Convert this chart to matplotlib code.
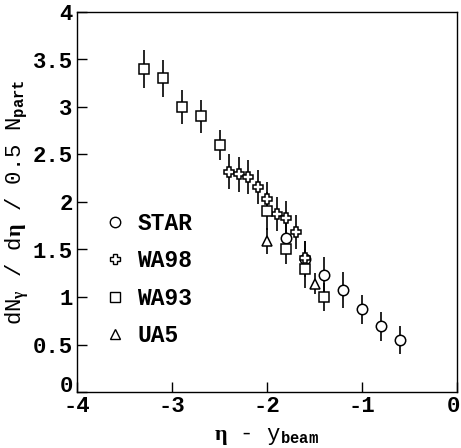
import numpy as np
import matplotlib
matplotlib.use('Agg')
import matplotlib.pyplot as plt
import matplotlib.transforms as mtransforms
from matplotlib.lines import Line2D

plt.rcdefaults()
plt.rc('font', family='Liberation Mono', weight='bold', size=16)
plt.rc('mathtext', fontset='custom', rm='Liberation Mono:bold',
       it='Liberation Serif', bf='Liberation Mono:bold')

# DATA
star_x = [-1.8, -1.6, -1.4, -1.2, -1.0, -0.8, -0.6]
star_y = [1.62, 1.40, 1.23, 1.07, 0.87, 0.69, 0.55]
star_e = [0.17, 0.19, 0.19, 0.19, 0.15, 0.15, 0.15]

wa98_x = [-2.4, -2.3, -2.2, -2.1, -2.0, -1.9, -1.8, -1.7, -1.6]
wa98_y = [2.32, 2.29, 2.26, 2.16, 2.03, 1.87, 1.83, 1.68, 1.41]
wa98_e = [0.18, 0.18, 0.18, 0.18, 0.18, 0.18, 0.18, 0.18, 0.18]

wa93_x = [-3.3, -3.1, -2.9, -2.7, -2.5, -2.0, -1.8, -1.6, -1.4]
wa93_y = [3.40, 3.30, 3.00, 2.90, 2.60, 1.90, 1.50, 1.30, 1.00]
wa93_e = [0.20, 0.19, 0.18, 0.17, 0.16, 0.20, 0.15, 0.20, 0.15]

ua5_x = [-2.0, -1.5]
ua5_y = [1.59, 1.14]
ua5_e = [0.14, 0.11]

series = [
    ('STAR', star_x, star_y, star_e, 'o'),
    ('WA98', wa98_x, wa98_y, wa98_e, 'P'),
    ('WA93', wa93_x, wa93_y, wa93_e, 's'),
    ('UA5', ua5_x, ua5_y, ua5_e, '^'),
]

fig = plt.figure(figsize=[4.61, 4.48], dpi=100)
ax = fig.add_axes([77/461, 56/448, 380/461, 380/448])

handles = []
for name, x, y, e, m in series:
    ax.errorbar(x, y, yerr=e, fmt=m, color='black', mfc='white', mec='black',
                ms=7.5, mew=1.1, elinewidth=1.2, capsize=0)
    handles.append(Line2D([], [], ls='none', marker=m, color='black',
                          mfc='white', mec='black', ms=7.5, mew=1.0, label=name))

ax.set_xlim(-4, 0)
ax.set_ylim(0, 4)
ax.set_xticks([-4, -3, -2, -1, 0])
ax.set_xticklabels(['-4', '-3', '-2', '-1', '0'])
ax.set_yticks([0, 0.5, 1, 1.5, 2, 2.5, 3, 3.5, 4])
ax.set_yticklabels(['0', '0.5', '1', '1.5', '2', '2.5', '3', '3.5', '4'])
ax.tick_params(direction='in', length=7, width=1, top=False, right=False, pad=3)
ax.get_yticklabels()[0].set_va('baseline')
# keep the last x label inside the figure
last = ax.get_xticklabels()[-1]
last.set_ha('right')
last.set_transform(last.get_transform() +
                   mtransforms.ScaledTranslation(3/100, 0, fig.dpi_scale_trans))
for sp in ax.spines.values():
    sp.set_linewidth(1.0)

ax.set_xlabel(r'$\eta$ - y$_{\rm beam}$', labelpad=6)
ax.set_ylabel(r'dN$_{\gamma}$ / d$\eta$ / 0.5 N$_{\rm part}$')
ax.yaxis.set_label_coords(-0.122, 0.5)

ax.legend(handles=handles, loc='upper left', bbox_to_anchor=(0.07, 0.473),
          frameon=False, borderpad=0, borderaxespad=0, handlelength=1.0,
          handletextpad=0.47, labelspacing=0.62, fontsize=16.5)

fig.savefig('out.png', dpi=100)
